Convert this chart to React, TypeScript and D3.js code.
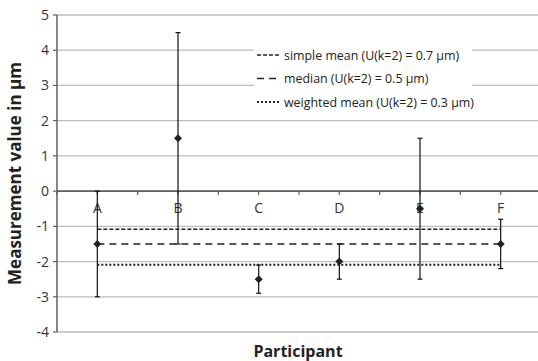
import React from "react";
import * as d3 from "d3";

const participants = ["A", "B", "C", "D", "E", "F"];
const values = [-1.5, 1.5, -2.5, -2.0, -0.5, -1.5];
const uncertainties = [1.5, 3.0, 0.4, 0.5, 2.0, 0.7];

const refLines = [
  { label: "simple mean (U(k=2) = 0.7 µm)", value: -1.08, dash: "4,2", width: 1.5 },
  { label: "median (U(k=2) = 0.5 µm)", value: -1.5, dash: "7,5", width: 1.5 },
  { label: "weighted mean (U(k=2) = 0.3 µm)", value: -2.09, dash: "2,2", width: 2 },
];

const yTicks = [-4, -3, -2, -1, 0, 1, 2, 3, 4, 5];

const W = 538;
const H = 361;
const FONT = "'Open Sans', sans-serif";

const App = () => {
  const x = d3.scaleLinear().domain([0, 6]).range([57, 541]);
  const y = d3.scaleLinear().domain([-4, 5]).range([332, 15]);
  const xTicks = d3.range(0, 6.01, 0.5);
  const pos = (i: number) => x(i + 0.5);

  const legendX = 254;
  const legendY = 41;

  return (
    <svg width={W} height={H} style={{ position: "absolute", left: 0, top: 0, fontFamily: FONT }}>
      <rect width={W} height={H} fill="#fff" />

      {/* gridlines */}
      {yTicks.map((t) => (
        <line key={t} x1={x(0)} x2={W} y1={y(t)} y2={y(t)} stroke="#bdbdbd" strokeWidth={1.3} />
      ))}

      {/* legend box (covers gridlines) */}
      <rect x={legendX} y={legendY} width={218} height={72} fill="#fff" />
      {refLines.map((r, i) => (
        <g key={r.label} transform={`translate(${legendX + 3},${legendY + 14 + i * 23.5})`}>
          <line x1={0} x2={22} y1={0} y2={0} stroke="#222" strokeWidth={r.width} strokeDasharray={r.dash} />
          <text x={27} y={4.5} fontSize={12.4} fill="#222">{r.label}</text>
        </g>
      ))}

      {/* y axis */}
      <line x1={x(0)} x2={x(0)} y1={y(5)} y2={y(-4)} stroke="#5f5f5f" strokeWidth={1.5} />
      {yTicks.map((t) => (
        <g key={t}>
          <line x1={x(0) - 4} x2={x(0)} y1={y(t)} y2={y(t)} stroke="#5f5f5f" strokeWidth={1.2} />
          <text x={x(0) - 8} y={y(t) + 5} fontSize={14} textAnchor="end" fill="#333">{t}</text>
        </g>
      ))}

      {/* x axis at zero */}
      <line x1={x(0)} x2={W} y1={y(0)} y2={y(0)} stroke="#5f5f5f" strokeWidth={1.8} />
      {xTicks.map((t) => (
        <line key={t} x1={x(t)} x2={x(t)} y1={y(0)} y2={y(0) + 4} stroke="#5f5f5f" strokeWidth={1.2} />
      ))}

      {/* participant labels */}
      {participants.map((p, i) => (
        <text key={p} x={pos(i)} y={y(0) + 22} fontSize={14} textAnchor="middle" fill="#333">{p}</text>
      ))}

      {/* reference lines */}
      {refLines.map((r) => (
        <line key={r.label} x1={pos(0)} x2={pos(5)} y1={y(r.value)} y2={y(r.value)}
          stroke="#222" strokeWidth={r.width} strokeDasharray={r.dash} />
      ))}

      {/* error bars and points */}
      {values.map((v, i) => {
        const cx = pos(i);
        const top = y(v + uncertainties[i]);
        const bot = y(v - uncertainties[i]);
        const cy = y(v);
        return (
          <g key={i}>
            <line x1={cx} x2={cx} y1={top} y2={bot} stroke="#111" strokeWidth={1.2} />
            <line x1={cx - 2.5} x2={cx + 2.5} y1={top} y2={top} stroke="#111" strokeWidth={1.2} />
            <line x1={cx - 2.5} x2={cx + 2.5} y1={bot} y2={bot} stroke="#111" strokeWidth={1.2} />
            <path d={`M${cx},${cy - 4}L${cx + 4},${cy}L${cx},${cy + 4}L${cx - 4},${cy}Z`} fill="#222" />
          </g>
        );
      })}

      {/* axis titles */}
      <text transform={`translate(21,${y(0.5)}) rotate(-90)`} textAnchor="middle" fontSize={17}
        fontWeight="bold" fill="#222">Measurement value in µm</text>
      <text x={298} y={357} textAnchor="middle" fontSize={16} fontWeight="bold" fill="#222">Participant</text>
    </svg>
  );
};

export default App;
